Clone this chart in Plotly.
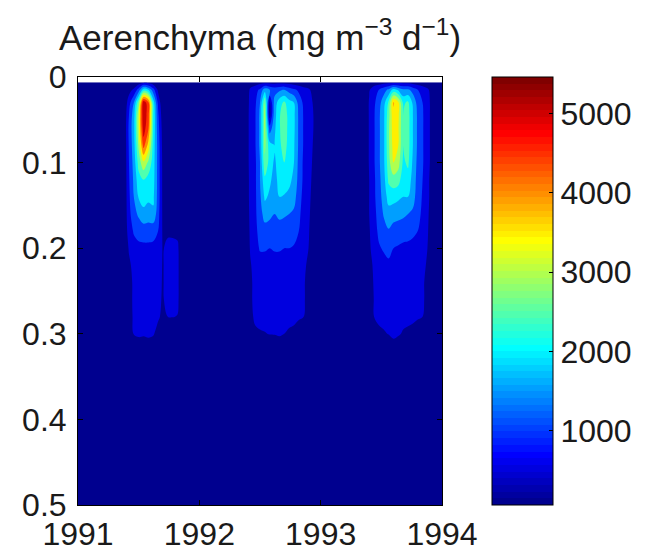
import plotly.graph_objects as go

# ---------------- data ----------------
depth = [0.006, 0.015, 0.03, 0.045, 0.06, 0.08, 0.10, 0.12, 0.14, 0.16, 0.18,
         0.20, 0.22, 0.24, 0.26, 0.28, 0.30, 0.32, 0.35, 0.40, 0.50]

quiet = [0, 0, 0, 0, 0, 0, 0, 0, 0, 0, 0, 0, 0, 0, 0, 0, 0, 0, 0, 0, 0]

times_1991 = [1991.00, 1991.38, 1991.42, 1991.46, 1991.50, 1991.54, 1991.58,
              1991.62, 1991.66, 1991.70, 1991.74, 1991.78, 1991.82, 1991.86]
profiles_1991 = [
    quiet,
    [0, 0, 50, 100, 100, 100, 100, 100, 100, 100, 80, 50, 0, 0, 0, 0, 0, 0, 0, 0, 0],
    [0, 300, 800, 1000, 1100, 1050, 1000, 950, 900, 850, 750, 550, 400, 300, 300, 280, 250, 0, 0, 0, 0],
    [50, 600, 1500, 1800, 1850, 1800, 1700, 1600, 1500, 1300, 1050, 820, 650, 600, 600, 580, 520, 150, 0, 0, 0],
    [200, 1200, 2900, 3400, 3400, 3100, 2700, 2300, 2050, 1600, 1150, 900, 720, 650, 620, 600, 560, 250, 0, 0, 0],
    [300, 2300, 5400, 5460, 5300, 4700, 3400, 2500, 2150, 1900, 1200, 900, 720, 650, 620, 600, 540, 250, 0, 0, 0],
    [250, 2000, 4650, 4700, 4550, 3800, 2900, 2300, 2100, 1800, 1200, 900, 720, 650, 620, 600, 560, 300, 0, 0, 0],
    [150, 1200, 2300, 2450, 2400, 2300, 2250, 2200, 2100, 1900, 1150, 900, 720, 650, 620, 600, 540, 200, 0, 0, 0],
    [0, 400, 900, 1100, 1200, 1300, 1300, 1300, 1300, 1200, 1000, 800, 650, 600, 580, 560, 350, 0, 0, 0, 0],
    [0, 0, 0, 150, 250, 300, 350, 350, 350, 380, 420, 460, 470, 470, 460, 400, 100, 0, 0, 0, 0],
    [0, 0, 0, 0, 0, 0, 0, 0, 0, 100, 400, 650, 680, 680, 660, 500, 0, 0, 0, 0, 0],
    [0, 0, 0, 0, 0, 0, 0, 0, 0, 100, 400, 650, 700, 700, 680, 520, 0, 0, 0, 0, 0],
    [0, 0, 0, 0, 0, 0, 0, 0, 0, 50, 350, 620, 650, 650, 640, 480, 0, 0, 0, 0, 0],
    quiet,
]

times_1992 = [1992.00, 1992.38, 1992.42, 1992.46, 1992.50, 1992.54, 1992.58, 1992.62,
              1992.66, 1992.70, 1992.74, 1992.78, 1992.82, 1992.86, 1992.90, 1992.94, 1992.98]
profiles_1992 = [
    quiet,
    quiet,
    [200, 600, 700, 750, 750, 750, 750, 700, 700, 650, 600, 550, 450, 400, 400, 350, 100, 0, 0, 0, 0],
    [250, 800, 900, 950, 950, 950, 900, 900, 900, 900, 850, 800, 700, 650, 650, 600, 400, 0, 0, 0, 0],
    [300, 1100, 1500, 1600, 1600, 1600, 1500, 1500, 1400, 1300, 1200, 1050, 800, 700, 700, 650, 450, 0, 0, 0, 0],
    [300, 1800, 3000, 3200, 3200, 3100, 2900, 2400, 2100, 1700, 1300, 1050, 800, 700, 700, 650, 480, 0, 0, 0, 0],
    [300, 1500, 400, 300, 1200, 2200, 2300, 2100, 1900, 1600, 1300, 1000, 800, 700, 700, 650, 520, 0, 0, 0, 0],
    [300, 1300, 1700, 1800, 1900, 2000, 1900, 1800, 1700, 1500, 1300, 1050, 800, 700, 700, 650, 520, 150, 0, 0, 0],
    [300, 1400, 2300, 2450, 2450, 2400, 2300, 2200, 2000, 1600, 1300, 1050, 800, 700, 700, 650, 550, 200, 0, 0, 0],
    [300, 1500, 2600, 2800, 2800, 2700, 2500, 2300, 1950, 1550, 1300, 1000, 800, 700, 700, 650, 500, 100, 0, 0, 0],
    [250, 1300, 2200, 2300, 2300, 2300, 2200, 2100, 1900, 1500, 1200, 1000, 800, 700, 650, 600, 450, 0, 0, 0, 0],
    [200, 1100, 2000, 2100, 2100, 2050, 2000, 1900, 1700, 1400, 1200, 950, 750, 650, 650, 600, 400, 0, 0, 0, 0],
    [150, 900, 1300, 1400, 1400, 1400, 1350, 1300, 1200, 1100, 1000, 850, 700, 650, 600, 550, 300, 0, 0, 0, 0],
    [100, 700, 900, 950, 950, 950, 900, 900, 850, 800, 750, 700, 600, 550, 550, 500, 200, 0, 0, 0, 0],
    [50, 600, 750, 800, 800, 800, 750, 700, 650, 600, 550, 500, 400, 350, 350, 300, 100, 0, 0, 0, 0],
    [0, 300, 450, 500, 500, 450, 400, 350, 300, 250, 200, 200, 150, 100, 100, 0, 0, 0, 0, 0, 0],
    quiet,
]

times_1993 = [1993.10, 1993.36, 1993.40, 1993.44, 1993.48, 1993.52, 1993.56, 1993.60, 1993.64,
              1993.68, 1993.72, 1993.76, 1993.80, 1993.84, 1993.88, 1993.92, 1993.96, 1994.00]
profiles_1993 = [
    quiet,
    quiet,
    [100, 450, 550, 550, 550, 550, 550, 500, 500, 500, 450, 400, 300, 250, 200, 150, 0, 0, 0, 0, 0],
    [200, 800, 900, 950, 950, 950, 950, 900, 900, 850, 800, 750, 600, 550, 520, 500, 150, 0, 0, 0, 0],
    [250, 1000, 1300, 1400, 1400, 1400, 1400, 1350, 1300, 1200, 1100, 950, 800, 700, 650, 600, 400, 0, 0, 0, 0],
    [300, 1300, 1800, 1900, 1900, 1900, 1900, 1800, 1700, 1550, 1300, 1050, 850, 750, 700, 650, 450, 0, 0, 0, 0],
    [300, 1600, 2600, 2800, 2900, 2900, 2800, 2600, 2200, 1800, 1450, 1150, 900, 780, 720, 680, 520, 100, 0, 0, 0],
    [300, 2200, 4050, 3900, 3800, 3700, 3500, 2800, 2200, 1700, 1300, 1000, 900, 800, 750, 700, 620, 200, 0, 0, 0],
    [300, 1900, 3600, 3600, 3550, 3500, 3200, 2700, 2100, 1650, 1250, 950, 850, 780, 720, 680, 560, 100, 0, 0, 0],
    [300, 1600, 2400, 2500, 2500, 2500, 2400, 2200, 2000, 1600, 1200, 900, 800, 720, 700, 650, 450, 0, 0, 0, 0],
    [300, 1600, 2600, 2700, 2700, 2700, 2600, 2300, 2000, 1500, 1150, 900, 780, 700, 680, 630, 400, 0, 0, 0, 0],
    [250, 1300, 1900, 2000, 2000, 2000, 1900, 1800, 1700, 1400, 1100, 850, 750, 680, 650, 600, 350, 0, 0, 0, 0],
    [200, 1000, 1300, 1400, 1400, 1400, 1350, 1300, 1250, 1150, 1000, 800, 700, 650, 600, 550, 250, 0, 0, 0, 0],
    [150, 800, 1000, 1050, 1050, 1050, 1050, 1000, 950, 900, 800, 700, 600, 550, 550, 500, 150, 0, 0, 0, 0],
    [100, 600, 700, 700, 700, 700, 700, 650, 650, 600, 550, 500, 450, 400, 400, 350, 50, 0, 0, 0, 0],
    [0, 250, 300, 300, 300, 300, 300, 250, 250, 200, 200, 150, 100, 100, 100, 0, 0, 0, 0, 0, 0],
    quiet,
    quiet,
]

year_ticks = [1991, 1992, 1993, 1994]
year_labels = ["1991", "1992", "1993", "1994"]
depth_ticks = [0, 0.1, 0.2, 0.3, 0.4, 0.5]
depth_labels = ["0", "0.1", "0.2", "0.3", "0.4", "0.5"]
cbar_ticks = [1000, 2000, 3000, 4000, 5000]
cbar_labels = ["1000", "2000", "3000", "4000", "5000"]
color_min, color_max = 65, 5460
level_start, level_end, level_step = 500, 5000, 500

# ---------------- assemble grid ----------------
times = times_1991 + times_1992 + times_1993
profiles = profiles_1991 + profiles_1992 + profiles_1993
z = [list(row) for row in zip(*profiles)]   # rows = depth, columns = time


# MATLAB jet(64) colour map
def _u(k):
    if 1 <= k <= 16:
        return k / 16
    if 16 < k <= 31:
        return 1.0
    if 32 <= k <= 47:
        return (48 - k) / 16
    return 0.0


def jet_index(i):          # i = 1..64
    r, g, b = _u(i - 24), _u(i - 8), _u(i + 8)
    return "rgb(%d,%d,%d)" % (round(r * 255), round(g * 255), round(b * 255))


def jet_value(v):
    i = int((v - color_min) / (color_max - color_min) * 64) + 1
    return jet_index(min(max(i, 1), 64))


# stepped 64-colour scale for the colour bar
jet_scale = []
for i in range(64):
    c = jet_index(i + 1)
    jet_scale.append([i / 64, c])
    jet_scale.append([(i + 1) / 64, c])

# band colours: each filled band takes the jet colour of its lower level
levels = list(range(level_start, level_end + 1, level_step))
n_levels = len(levels)
band_scale = [[0.0, jet_index(1)]]
for k, lv in enumerate(levels, start=1):
    band_scale.append([k / n_levels, jet_value(lv)])

FONT = "Liberation Sans, Arial, Helvetica, sans-serif"
OFF = 8                       # page body margin
W, H = 649 - OFF, 551 - OFF
L, R, T, B = 78 - OFF, 442 - OFF, 77 - OFF, 505 - OFF
CB_LEFT = 492 - OFF
CB_X = (CB_LEFT - L) / (R - L)
CB_TICK = 4 / (R - L)

fig = go.Figure()
fig.add_trace(go.Contour(
    x=times, y=depth, z=z,
    colorscale=band_scale,
    autocontour=False,
    contours=dict(start=level_start, end=level_end, size=level_step, coloring="fill"),
    line=dict(width=0, smoothing=1),
    showscale=False,
    hoverinfo="skip",
))

fig.add_trace(go.Scatter(
    x=[None], y=[None], mode="markers", showlegend=False, hoverinfo="skip",
    marker=dict(
        color=[color_min], colorscale=jet_scale, cmin=color_min, cmax=color_max,
        showscale=True,
        colorbar=dict(
            x=CB_X, xanchor="left", xpad=0, ypad=0,
            y=0.5, yanchor="middle", len=1.0, lenmode="fraction",
            thickness=61, thicknessmode="pixels",
            outlinecolor="black", outlinewidth=1,
            ticks="inside", ticklen=4, tickcolor="black", tickwidth=1,
            tickvals=cbar_ticks, ticktext=cbar_labels,
            tickfont=dict(family=FONT, size=32, color="#1a1a1a"),
        ),
    ),
))

# matching tick marks on the left edge of the colour bar (MATLAB style)
cb_shapes = [
    dict(type="line", xref="paper", yref="paper",
         x0=CB_X, x1=CB_X + CB_TICK,
         y0=(v - color_min) / (color_max - color_min),
         y1=(v - color_min) / (color_max - color_min),
         line=dict(color="black", width=1), layer="above")
    for v in cbar_ticks
]

axis_common = dict(
    showline=True, linecolor="black", linewidth=1, mirror="ticks",
    ticks="inside", ticklen=5, tickcolor="black", tickwidth=1,
    showgrid=False, zeroline=False, automargin=False,
    tickfont=dict(family=FONT, size=32, color="#1a1a1a"),
)

fig.update_layout(
    width=W, height=H,
    margin=dict(l=L, r=W - R, t=T, b=H - B, pad=0, autoexpand=False),
    paper_bgcolor="white", plot_bgcolor="white",
    xaxis=dict(range=[1991, 1994], tickvals=year_ticks, ticktext=year_labels,
               ticklabelstandoff=1, **axis_common),
    yaxis=dict(range=[0.5, 0], tickvals=depth_ticks, ticktext=depth_labels,
               ticklabelstandoff=4, **axis_common),
    showlegend=False,
    shapes=cb_shapes,
    annotations=[dict(
        text="Aerenchyma (mg m<sup>−3</sup> d<sup>−1</sup>)",
        xref="paper", yref="paper", x=0.5, y=1, xanchor="center", yanchor="bottom",
        yshift=18, showarrow=False,
        font=dict(family=FONT, size=35, color="#1a1a1a"),
    )],
)

fig.write_html("out.html")
